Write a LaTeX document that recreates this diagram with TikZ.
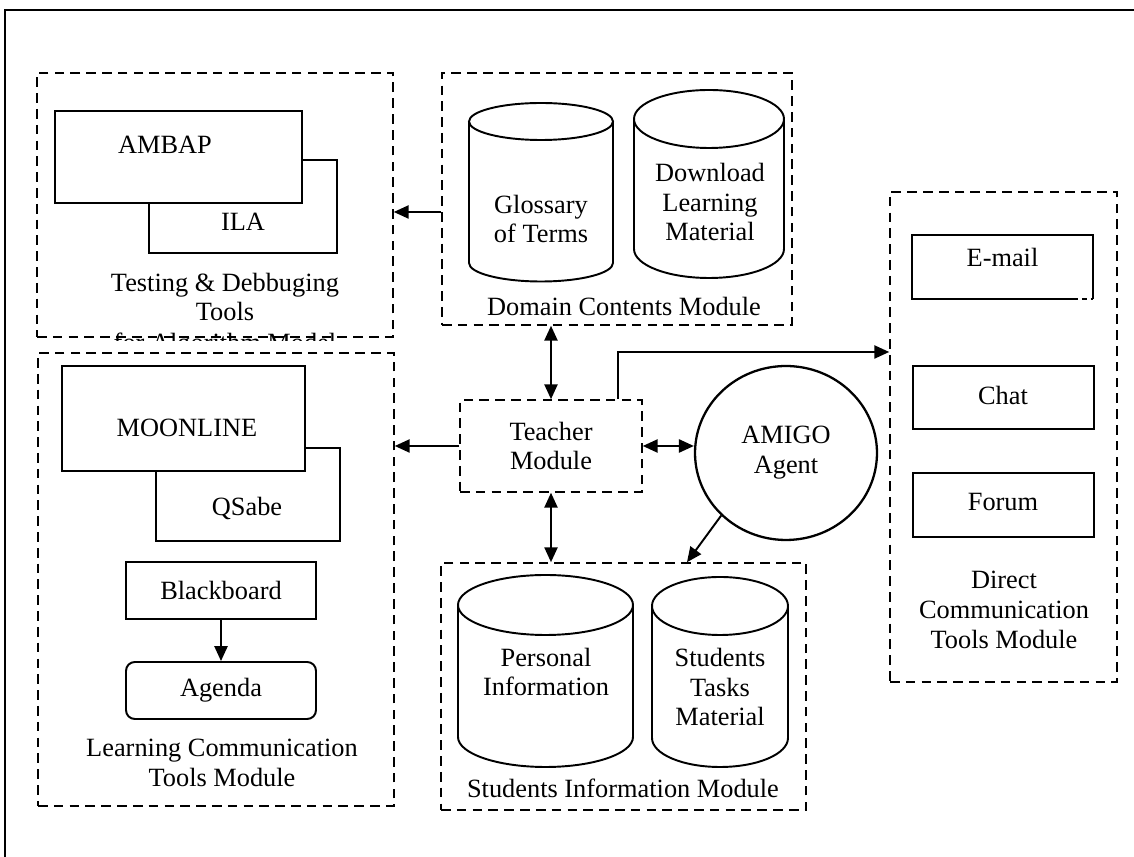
\documentclass[tikz,border=0pt]{standalone}
\usepackage{fontspec}
\setmainfont{Liberation Serif}
\usetikzlibrary{arrows.meta,fit,shapes.geometric}
\newcommand\mycyl[5]{%
  \pgfmathsetmacro\cxc{(#1+#2)/2}%
  \pgfmathsetmacro\crx{(#2-#1)/2}%
  \draw[cylline] (#1,#3) -- (#1,#4) arc[start angle=180,end angle=0,x radius=\crx,y radius=#5] -- (#2,#3);
  \draw[cylline] (\cxc,#3) ellipse[x radius=\crx, y radius=#5];
}
\begin{document}
\begin{tikzpicture}[x=0.02cm,y=-0.02cm,
  every node/.style={font=\fontsize{15}{17}\selectfont, inner sep=0pt, align=center},
  solidbox/.style={draw, line width=1.1pt, fill=white},
  modbox/.style={draw, dash pattern=on 5.5pt off 3.5pt, line width=0.9pt},
  arr/.style={line width=1.1pt, -{Triangle[length=8.5pt,width=7.5pt]}},
  darr/.style={line width=1.1pt, {Triangle[length=8.5pt,width=7.5pt]}-{Triangle[length=8.5pt,width=7.5pt]}},
  cylline/.style={line width=1.1pt}]
\useasboundingbox (0,0) rectangle (1134,857);
% outer frame (top and left)
\draw[line width=1.2pt] (1134,10) -- (5,10) -- (5,857);

% ---------- Testing & Debugging module ----------
\node[modbox, fit={(37,73) (393,337)}] (testing) {};
\node[solidbox, fit={(149,160) (337,253)}] (ila) {};
\node[solidbox, fit={(55,111) (302,203)}] (ambap) {};
\node (ambapT) at (165,145) {AMBAP};
\node (ilaT) at (243,222) {ILA};
\node (testT) at (225,297) {Testing \& Debbuging\\Tools};
\begin{scope}
  \clip (37,326) rectangle (393,341);
  \node[anchor=base] (algT) at (225,352) {for Algorithm Model};
\end{scope}

% ---------- Domain Contents module ----------
\node[modbox, fit={(442,73) (792,325)}] (domain) {};
\mycyl{469}{613}{121.5}{263}{18.5}
\mycyl{634}{784}{119}{249}{29}
\node (glossT) at (541,219) {Glossary\\of Terms};
\node (downT) at (710,202) {Download\\Learning\\Material};
\node (domT) at (624,306) {Domain Contents Module};

% ---------- Teacher / AMIGO ----------
\node[modbox, minimum width=3.64cm, minimum height=1.84cm] (teacher) at (551,446) {Teacher\\Module};
\node[draw, ellipse, line width=1.3pt, minimum width=3.64cm, minimum height=3.48cm] (amigo) at (786,453) {AMIGO\\Agent};

% ---------- Direct Communication module ----------
\node[modbox, fit={(890,192) (1117,682)}] (direct) {};
\node[fit={(912,235) (1093,299)}] (email) {E-mail};
\draw[line width=1.1pt] (1073,299) -- (912,299) -- (912,235) -- (1093,235) -- (1093,299);
\draw[line width=0.6pt, dash pattern=on 3pt off 2pt] (1073,299) -- (1093,299);
\node[solidbox, fit={(913,366) (1094,429)}] (chat) {};
\node (chatT) at (1003,395) {Chat};
\node[solidbox, fit={(913,473) (1094,537)}] (forum) {};
\node (forumT) at (1003,502) {Forum};
\node (directT) at (1004,610) {Direct\\Communication\\Tools Module};

% ---------- Learning Communication module ----------
\node[modbox, fit={(38,353) (394,806)}] (learning) {};
\node[solidbox, fit={(156,448) (340,541)}] (qsabe) {};
\node[solidbox, fit={(62,366) (305,471)}] (moon) {};
\node (moonT) at (187,428) {MOONLINE};
\node (qsabeT) at (247,508) {QSabe};
\node[solidbox, minimum width=3.8cm, minimum height=1.14cm] (bb) at (221,590.5) {Blackboard};
\node[solidbox, rounded corners=5pt, minimum width=3.8cm, minimum height=1.14cm] (agenda) at (221,690.5) {Agenda};
\node (learnT) at (222,763) {Learning Communication\\Tools Module};

% ---------- Students Information module ----------
\node[modbox, fit={(441,563) (806,810)}] (students) {};
\mycyl{458}{633}{605}{737}{30}
\mycyl{652}{788}{606}{738}{29}
\node (personalT) at (546,672) {Personal\\Information};
\node (tasksT) at (720,687) {Students\\Tasks\\Material};
\node (studT) at (623,788) {Students Information Module};

% ---------- connectors ----------
\coordinate (y212) at (420,212);
\coordinate (c618) at (618,352);
\coordinate (c687) at (687,540);
\draw[arr] (domain.west |- y212) -- (testing.east |- y212);
\draw[darr] (teacher.north) -- (teacher.north |- domain.south);
\draw[darr] (teacher.south) -- (teacher.south |- students.north);
\draw[darr] (teacher.east) -- (teacher.east -| amigo.west);
\draw[arr] (teacher.west) -- (teacher.west -| learning.east);
\draw[arr] (c618 |- teacher.north) -- (c618) -- (direct.west |- c618);
\draw[arr] (amigo.224) -- (c687 |- students.north);
\draw[arr] (bb.south) -- (agenda.north);
\end{tikzpicture}
\end{document}
